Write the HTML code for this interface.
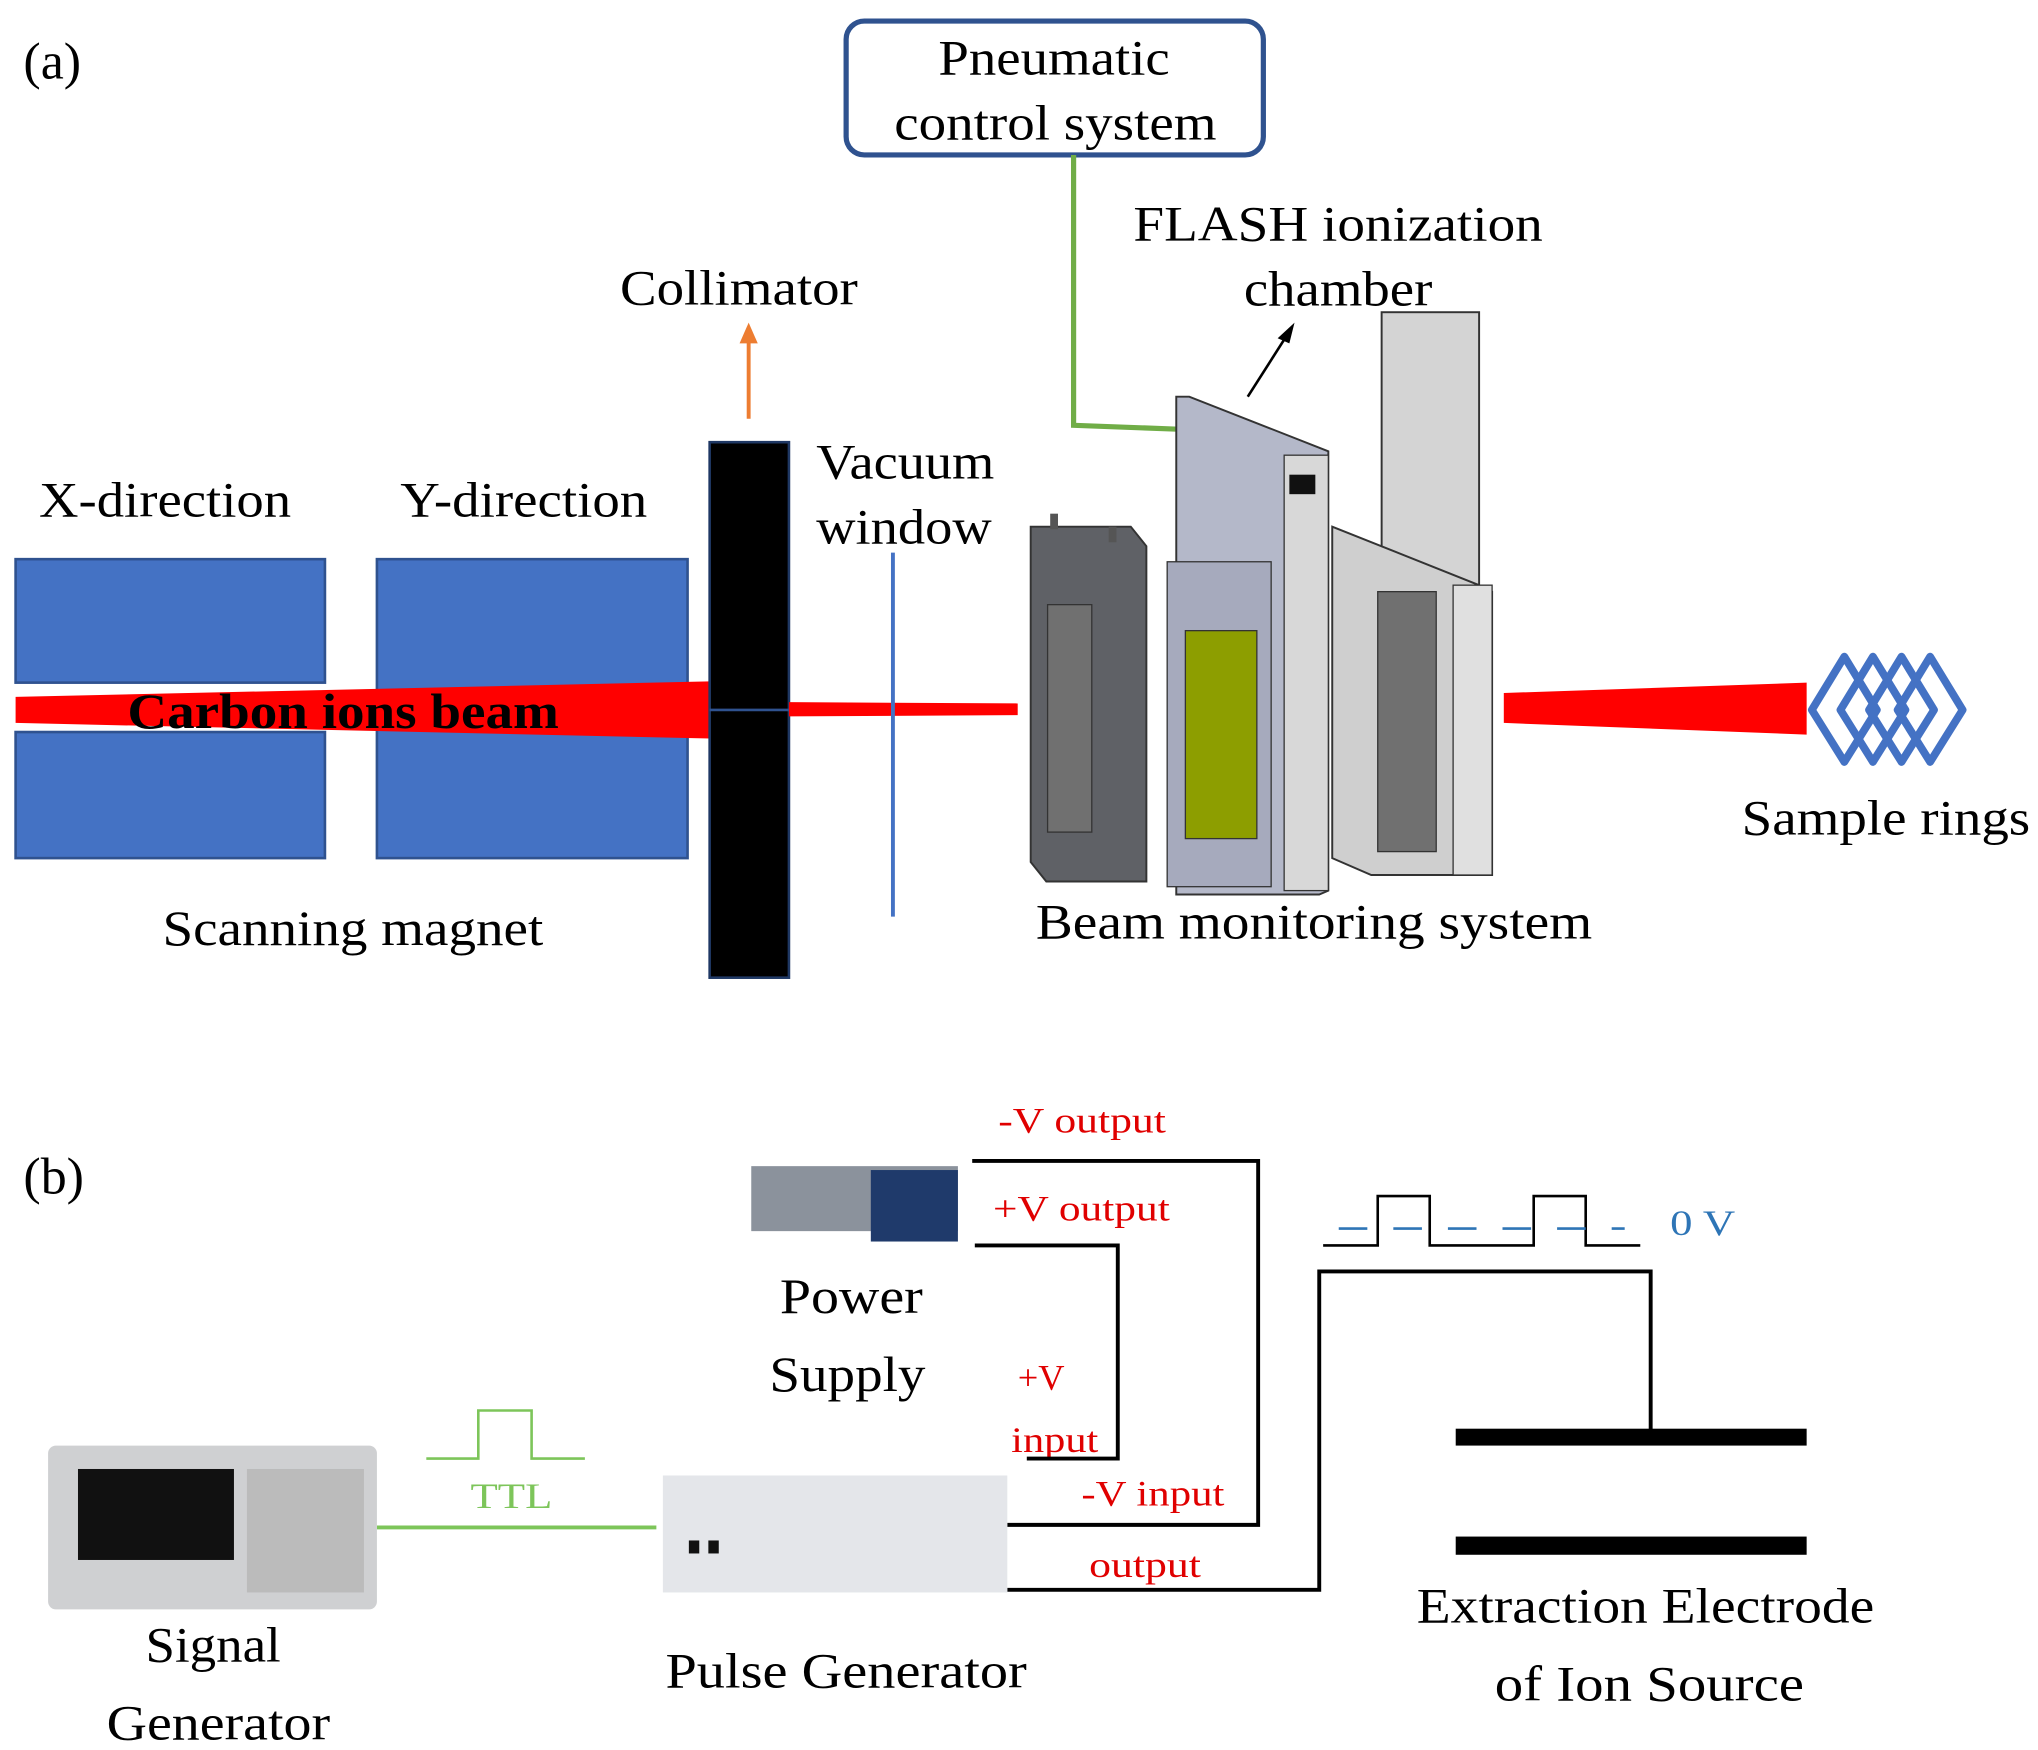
<!DOCTYPE html>
<html><head><meta charset="utf-8"><style>
html,body{margin:0;padding:0;background:#fff;}
svg{display:block;}
text{font-family:"Liberation Serif",serif;}
</style></head><body>
<svg width="2038" height="1750" viewBox="0 0 1568 1346" xmlns="http://www.w3.org/2000/svg">
<rect width="1568" height="1346" fill="#fff"/>
<!-- (a) -->
<text x="18" y="60" font-size="40">(a)</text>
<rect x="651" y="16" width="321" height="103" rx="14" fill="#fff" stroke="#2f528f" stroke-width="4"/>
<text x="722" y="57" font-size="38" textLength="178" lengthAdjust="spacingAndGlyphs">Pneumatic</text>
<text x="688" y="107" font-size="38" textLength="248" lengthAdjust="spacingAndGlyphs">control system</text>
<polyline points="826,119 826,327 906,330" fill="none" stroke="#70ad47" stroke-width="4"/>
<text x="872" y="185" font-size="38" textLength="315" lengthAdjust="spacingAndGlyphs">FLASH ionization</text>
<text x="957" y="235" font-size="38" textLength="145" lengthAdjust="spacingAndGlyphs">chamber</text>
<line x1="960" y1="305" x2="990" y2="258" stroke="#000" stroke-width="2"/>
<polygon points="996,248 983,260 992,264" fill="#000"/>
<text x="477" y="234" font-size="38" textLength="183" lengthAdjust="spacingAndGlyphs">Collimator</text>
<line x1="576" y1="322" x2="576" y2="262" stroke="#ed7d31" stroke-width="3"/>
<polygon points="576,248 569,264 583,264" fill="#ed7d31"/>
<text x="30" y="397" font-size="38" textLength="194" lengthAdjust="spacingAndGlyphs">X-direction</text>
<text x="308" y="397" font-size="38" textLength="190" lengthAdjust="spacingAndGlyphs">Y-direction</text>
<text x="628" y="368" font-size="38" textLength="137" lengthAdjust="spacingAndGlyphs">Vacuum</text>
<text x="628" y="418" font-size="38" textLength="135" lengthAdjust="spacingAndGlyphs">window</text>
<rect x="12" y="430" width="238" height="95" fill="#4472c4" stroke="#2f528f" stroke-width="2"/>
<rect x="12" y="563" width="238" height="97" fill="#4472c4" stroke="#2f528f" stroke-width="2"/>
<rect x="290" y="430" width="239" height="230" fill="#4472c4" stroke="#2f528f" stroke-width="2"/>
<polygon points="12,536 12,556 546,568 546,524" fill="#ff0000"/>
<text x="98" y="560" font-size="38" font-weight="bold" textLength="332" lengthAdjust="spacingAndGlyphs">Carbon ions beam</text>
<rect x="546" y="340" width="61" height="412" fill="#000" stroke="#1f3864" stroke-width="2"/>
<line x1="546" y1="546" x2="607" y2="546" stroke="#2f528f" stroke-width="2"/>
<polygon points="607,540 607,551 783,550 783,541" fill="#ff0000"/>
<line x1="687" y1="425" x2="687" y2="705" stroke="#4472c4" stroke-width="3"/>
<text x="125" y="727" font-size="38" textLength="293" lengthAdjust="spacingAndGlyphs">Scanning magnet</text>
<!-- devices -->
<polygon points="793,405 870,405 882,420 882,678 805,678 793,663" fill="#5f6166" stroke="#333" stroke-width="1.5"/>
<rect x="806" y="465" width="34" height="175" fill="#707070" stroke="#333"/>
<rect x="808" y="395" width="6" height="12" fill="#555"/><rect x="853" y="405" width="6" height="12" fill="#555"/>
<polygon points="905,305 915,305 1022,347 1022,685 1015,688 905,688" fill="#b4b8c9" stroke="#333" stroke-width="1.5"/>
<rect x="898" y="432" width="80" height="250" fill="#a6aabd" stroke="#333"/>
<rect x="912" y="485" width="55" height="160" fill="#8d9e00" stroke="#333"/>
<rect x="988" y="350" width="34" height="335" fill="#d8d8d8" stroke="#333"/>
<rect x="992" y="365" width="20" height="15" fill="#111"/>
<rect x="1063" y="240" width="75" height="210" fill="#d4d4d4" stroke="#333" stroke-width="1.5"/>
<polygon points="1025,405 1138,450 1148,455 1148,673 1055,673 1025,660" fill="#cfcfcf" stroke="#333" stroke-width="1.5"/>
<rect x="1060" y="455" width="45" height="200" fill="#707070" stroke="#333"/>
<rect x="1118" y="450" width="30" height="223" fill="#e0e0e0" stroke="#333"/>
<polygon points="1157,533 1157,556 1390,565 1390,525" fill="#ff0000"/>
<g fill="none" stroke="#4472c4" stroke-width="6" stroke-linejoin="round">
<polygon points="1394,546 1419,505 1444,546 1419,586"/>
<polygon points="1416,546 1441,505 1466,546 1441,586"/>
<polygon points="1438,546 1463,505 1488,546 1463,586"/>
<polygon points="1460,546 1485,505 1510,546 1485,586"/>
</g>
<text x="1340" y="642" font-size="38" textLength="222" lengthAdjust="spacingAndGlyphs">Sample rings</text>
<text x="797" y="722" font-size="38" textLength="428" lengthAdjust="spacingAndGlyphs">Beam monitoring system</text>
<!-- (b) -->
<text x="18" y="918" font-size="40">(b)</text>
<rect x="578" y="897" width="159" height="50" fill="#8b929c"/>
<rect x="670" y="900" width="67" height="55" fill="#1f3a6b"/>
<text x="600" y="1010" font-size="38" textLength="110" lengthAdjust="spacingAndGlyphs">Power</text>
<text x="592" y="1070" font-size="38" textLength="120" lengthAdjust="spacingAndGlyphs">Supply</text>
<g fill="#e00000" font-size="28">
<text x="768" y="871" textLength="129" lengthAdjust="spacingAndGlyphs">-V output</text>
<text x="764" y="939" textLength="136" lengthAdjust="spacingAndGlyphs">+V output</text>
<text x="783" y="1069">+V</text>
<text x="778" y="1117" textLength="67" lengthAdjust="spacingAndGlyphs">input</text>
<text x="832" y="1158" textLength="110" lengthAdjust="spacingAndGlyphs">-V input</text>
<text x="838" y="1213" textLength="86" lengthAdjust="spacingAndGlyphs">output</text>
</g>
<g fill="none" stroke="#000" stroke-width="3">
<polyline points="748,893 968,893 968,1173 775,1173"/>
<polyline points="750,958 860,958 860,1122 790,1122"/>
<polyline points="775,1223 1015,1223 1015,978 1270,978 1270,1100"/>
</g>
<polyline points="1018,958 1060,958 1060,920 1100,920 1100,958 1180,958 1180,920 1220,920 1220,958 1262,958" fill="none" stroke="#000" stroke-width="2"/>
<line x1="1030" y1="945" x2="1250" y2="945" stroke="#2e75b6" stroke-width="2" stroke-dasharray="22,20"/>
<text x="1285" y="950" font-size="28" fill="#2e75b6" textLength="50" lengthAdjust="spacingAndGlyphs">0 V</text>
<rect x="1120" y="1099" width="270" height="13" fill="#000"/>
<rect x="1120" y="1182" width="270" height="14" fill="#000"/>
<text x="1090" y="1248" font-size="38" textLength="352" lengthAdjust="spacingAndGlyphs">Extraction Electrode</text>
<text x="1150" y="1308" font-size="38" textLength="238" lengthAdjust="spacingAndGlyphs">of Ion Source</text>
<line x1="290" y1="1175" x2="505" y2="1175" stroke="#7dc55a" stroke-width="3"/>
<polyline points="328,1122 368,1122 368,1085 409,1085 409,1122 450,1122" fill="none" stroke="#7dc55a" stroke-width="2"/>
<text x="362" y="1160" font-size="28" fill="#7dc55a" textLength="63" lengthAdjust="spacingAndGlyphs">TTL</text>
<rect x="37" y="1112" width="253" height="126" rx="6" fill="#cfd0d2"/>
<rect x="60" y="1130" width="120" height="70" fill="#111"/>
<rect x="190" y="1130" width="90" height="95" fill="#bbb"/>
<rect x="510" y="1135" width="265" height="90" fill="#e4e6ea"/>
<rect x="530" y="1185" width="8" height="10" fill="#111"/><rect x="545" y="1185" width="8" height="10" fill="#111"/>
<text x="112" y="1278" font-size="38" textLength="104" lengthAdjust="spacingAndGlyphs">Signal</text>
<text x="82" y="1338" font-size="38" textLength="172" lengthAdjust="spacingAndGlyphs">Generator</text>
<text x="512" y="1298" font-size="38" textLength="278" lengthAdjust="spacingAndGlyphs">Pulse Generator</text>
</svg>
</body></html>
